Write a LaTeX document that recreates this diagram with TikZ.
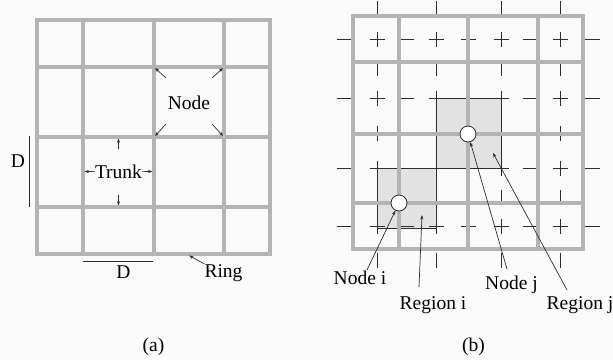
\documentclass[tikz,border=0pt]{standalone}
\usepackage{fontspec}
\setmainfont{Liberation Serif}
\usetikzlibrary{arrows.meta}
\definecolor{gridgray}{RGB}{180,180,180}
\definecolor{regionfill}{RGB}{226,226,226}
\definecolor{inkline}{RGB}{45,45,45}
\begin{document}
\begin{tikzpicture}[x=1pt,y=-1pt,
  trunkline/.style={gridgray,line width=3.2pt},
  guide/.style={inkline,line width=0.9pt},
  pointer/.style={inkline,line width=0.7pt,-{Stealth[length=4.5pt,width=3.2pt]}},
  lbl/.style={inner sep=0pt,anchor=base,font=\fontsize{19.5pt}{22pt}\selectfont},
  station/.style={circle,draw=inkline,fill=white,line width=0.8pt,minimum size=16pt,inner sep=0pt}]
\useasboundingbox (0,0) rectangle (613,360);
\fill[white!98!black] (0,0) rectangle (613,360);

% ---------- (a) mesh of rings and trunks ----------
\draw[trunkline] (37,20) rectangle (270,254);
\foreach \x in {83,154,224} \draw[trunkline] (\x,20) -- (\x,254);
\foreach \y in {67,137,207} \draw[trunkline] (37,\y) -- (270,\y);

% spacing marks
\node[lbl] (dv) at (18,167) {D};
\coordinate (dvtop) at (29,136);
\coordinate (dvbot) at (29,207);
\draw[guide,line width=0.8pt] (dvtop) -- (dvbot);
\node[lbl] (dh) at (123.5,278) {D};
\coordinate (dhl) at (83,261);
\coordinate (dhr) at (153,261);
\draw[guide,line width=0.8pt] (dhl) -- (dhr);

% node label with pointers to the four crossings
\node[lbl] (nodelbl) at (189,109) {Node};
\coordinate (x22) at (155,68);
\coordinate (x32) at (223,68);
\coordinate (x23) at (155,136);
\coordinate (x33) at (223,136);
\coordinate (p22) at (166,78);
\coordinate (p32) at (212,78);
\coordinate (p23) at (166,124);
\coordinate (p33) at (212,124);
\draw[pointer] (p22) -- (x22);
\draw[pointer] (p32) -- (x32);
\draw[pointer] (p23) -- (x23);
\draw[pointer] (p33) -- (x33);

% trunk label with pointers to the four sides of a cell
\node[lbl] (trunk) at (118.5,178) {Trunk};
\coordinate (tw) at (84.5,171.6);
\coordinate (te) at (152.5,171.6);
\coordinate (tup0) at (118.5,149);
\coordinate (tup) at (118.5,138.5);
\coordinate (tdn0) at (118.5,195);
\coordinate (tdn) at (118.5,205.5);
\draw[pointer] (trunk.west) -- (tw);
\draw[pointer] (trunk.east) -- (te);
\draw[pointer] (tup0) -- (tup);
\draw[pointer] (tdn0) -- (tdn);

% ring label
\node[lbl] (ring) at (223.5,277) {Ring};
\coordinate (ringpt) at (189,255.5);
\draw[pointer] (ring.north west) -- (ringpt);

\node[lbl] (capa) at (153.5,351) {(a)};

% ---------- (b) regions of two nodes ----------
\fill[regionfill] (377,168) rectangle (436,228);
\fill[regionfill] (436,98) rectangle (501,168);

% dashed mid-cell lines
\foreach \x in {377,436,501,560}
  \foreach \c in {8,39,68.5,98,133,168,197,226,260}
    \draw[guide] (\x,\c-7.5) -- (\x,\c+7.5);
\foreach \y in {39,98,168,226}
  \foreach \c in {344,377,406.5,436,468.5,501,530.5,560,592}
    \draw[guide] (\c-7.5,\y) -- (\c+7.5,\y);

% region borders
\draw[guide] (377,168) rectangle (436,228);
\draw[guide] (436,98) rectangle (501,168);

% mesh
\draw[trunkline] (353,16) rectangle (583,249);
\foreach \x in {399,468,538} \draw[trunkline] (\x,16) -- (\x,249);
\foreach \y in {62,134,203} \draw[trunkline] (353,\y) -- (583,\y);

% nodes
\node[station] (ni) at (399,203) {};
\node[station] (nj) at (468,134) {};

% labels and pointers
\node[lbl] (lni) at (360,284) {Node i};
\node[lbl] (lnj) at (511.5,289) {Node j};
\node[lbl] (lri) at (433,309) {Region i};
\node[lbl] (lrj) at (580,309) {Region j};
\coordinate (lnitail) at (367,270);
\coordinate (lnjtail) at (507,269);
\coordinate (lritail) at (419,287);
\coordinate (lrjtail) at (567,290);
\coordinate (rihead) at (422,215);
\coordinate (rjhead) at (493,153);
\draw[pointer] (lnitail) -- (ni);
\draw[pointer] (lnjtail) -- (nj);
\draw[pointer] (lritail) -- (rihead);
\draw[pointer] (lrjtail) -- (rjhead);

\node[lbl] (capb) at (473.5,351) {(b)};
\end{tikzpicture}
\end{document}
